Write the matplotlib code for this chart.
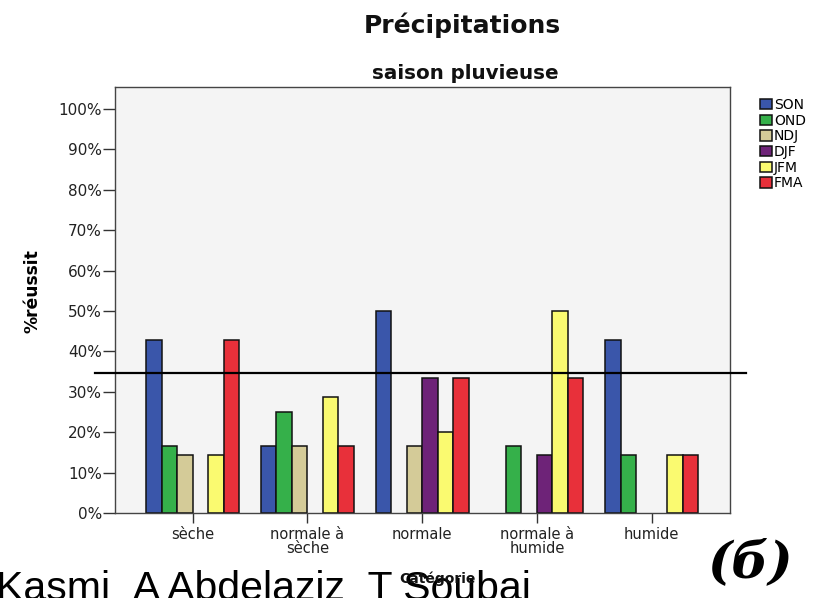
import numpy as np
import matplotlib
matplotlib.use("Agg")
import matplotlib.pyplot as plt

# Données (% réussite par catégorie et par saison)
categories = ["sèche", "normale à\nsèche", "normale", "normale à\nhumide", "humide"]
saisons = ["SON", "OND", "NDJ", "DJF", "JFM", "FMA"]
son = [42.9, 16.7, 50.0, 0.0, 42.9]
ond = [16.7, 25.0, 0.0, 16.7, 14.3]
ndj = [14.3, 16.7, 16.7, 0.0, 0.0]
djf = [0.0, 0.0, 33.3, 14.3, 0.0]
jfm = [14.3, 28.6, 20.0, 50.0, 14.3]
fma = [42.9, 16.7, 33.3, 33.3, 14.3]
seuil = 34.6
yticks = [0, 10, 20, 30, 40, 50, 60, 70, 80, 90, 100]

series = [son, ond, ndj, djf, jfm, fma]
couleurs = ["#3A56AA", "#35B04A", "#D4CB98", "#6E2378", "#FAFA70", "#E8303A"]

plt.rcParams['font.family'] = ['DejaVu Sans']

fig = plt.figure(figsize=(8.19, 5.98), dpi=100)
ax = fig.add_axes([0.1404, 0.1421, 0.7509, 0.7124])
ax.set_facecolor("#F4F4F4")

x = np.arange(len(categories))
largeur = 0.135
handles = []
for i, (vals, c, nom) in enumerate(zip(series, couleurs, saisons)):
    pos = x + (i - 2.5) * largeur
    v = np.array(vals)
    b = ax.bar(pos[v > 0], v[v > 0], width=largeur, color=c,
               edgecolor="#111111", linewidth=1.1, label=nom, zorder=2)
    handles.append(b)

# ligne horizontale (dépasse le cadre)
ax.plot([-0.0325, 1.026], [seuil, seuil], color="black", linewidth=1.6,
        transform=ax.get_yaxis_transform(), clip_on=False, zorder=3)

ax.set_xlim(-0.677, 4.682)
ax.set_ylim(0, 105.4)
ax.set_xticks(x)
ax.set_xticklabels(categories, fontsize=10.5, color="#222222", linespacing=0.95)
ax.set_yticks(yticks)
ax.set_yticklabels([f"{t}%" for t in yticks], fontsize=11, color="#222222")
ax.tick_params(axis="y", length=8.5, width=1, pad=1, color="#333333")
ax.tick_params(axis="x", length=7, width=1, pad=3, color="#333333")
for s in ax.spines.values():
    s.set_color("#444444")
    s.set_linewidth(1)

ax.set_ylabel("%réussit", fontsize=12.3, fontweight="bold")
ax.yaxis.set_label_coords(-0.119, 0.52)

fig.text(0.565, 0.958, "Précipitations", ha="center", va="center",
         fontsize=18, fontweight="bold", color="#111111")
fig.text(0.568, 0.877, "saison pluvieuse", ha="center", va="center",
         fontsize=14.3, fontweight="bold", color="#111111")

fig.legend(handles=handles, labels=saisons, loc="upper left",
           bbox_to_anchor=(760 / 819, 1 - 98 / 598), frameon=False,
           fontsize=10, handlelength=0.85, handleheight=0.8,
           handletextpad=0.15, labelspacing=0.12, borderpad=0, borderaxespad=0)

# texte du bas
fig.text(-0.005, -0.004, "Kasmi_A Abdelaziz_T Soubai", ha="left", va="baseline",
         fontsize=29.5, color="black", family="Liberation Sans")
fig.text(0.534, 0.033, "Catégorie", ha="center", va="center",
         fontsize=10, fontweight="bold", color="#111111")
fig.text(0.917, 0.058, "(б)", ha="center", va="center", fontsize=37,
         fontweight="bold", fontstyle="italic", family="DejaVu Serif")

fig.savefig("out.png", dpi=100)
